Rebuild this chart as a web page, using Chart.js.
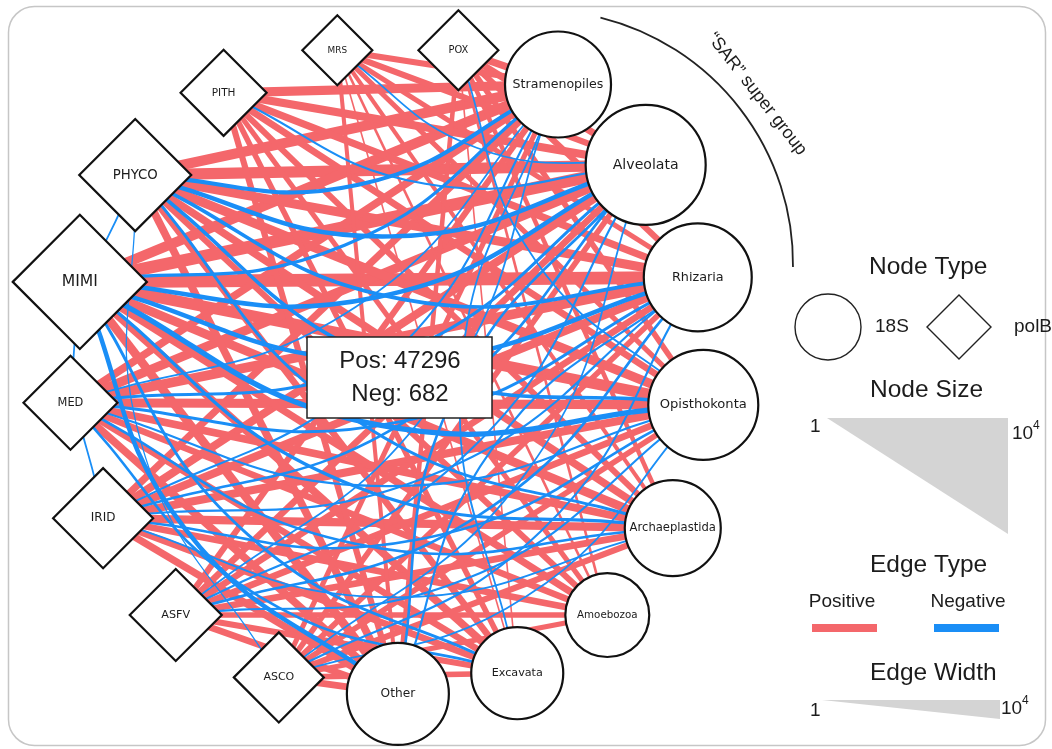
<!DOCTYPE html>
<html>
<head>
<meta charset="utf-8">
<title>polB / 18S co-occurrence network</title>
<script src="https://cdn.jsdelivr.net/npm/chart.js@4.4.1/dist/chart.umd.min.js"></script>
<style>
  html, body { margin: 0; padding: 0; background: #ffffff; }
  #wrap { width: 1052px; height: 749px; position: relative; }
  canvas { display: block; }
</style>
</head>
<body>
<div id="wrap"><canvas id="net" width="1052" height="749"></canvas></div>
<script>
// ---------------- data ----------------
// viral polB groups and their abundance (node size)
const polBNodes     = ['MRS', 'POX', 'PITH', 'PHYCO', 'MIMI', 'MED', 'IRID', 'ASFV', 'ASCO'];
const polBAbundance = [36, 84, 141, 1290, 8500, 278, 465, 235, 198];

// eukaryotic 18S groups and their abundance (node size)
const eukNodes     = ['Stramenopiles', 'Alveolata', 'Rhizaria', 'Opisthokonta', 'Archaeplastida', 'Amoebozoa', 'Excavata', 'Other'];
const eukAbundance = [775, 2560, 915, 1090, 330, 118, 235, 550];

// positive correlations, polB rows x 18S columns (edge counts)
const posVirusEuk = [
  [  20,   20,   10,   10,    5,   2,   1,   5],  // MRS
  [  39,   39,   20,   14,    7,   2,   1,   7],  // POX
  [ 150,   76,   39,   28,   20,  10,  14,  20],  // PITH
  [ 295,  580,  150,  150,   54,  20,  28,  54],  // PHYCO
  [ 295, 1150, 1620,  580,  107,  39,  54, 107],  // MIMI
  [  54,  150,  210,  150,   54,  28,  28,  54],  // MED
  [  39,   76,   76,   76,   76,  28,  28,  39],  // IRID
  [  20,   28,   28,   28,   28,  14,  20,  28],  // ASFV
  [  10,   14,   14,   14,   20,  10,  14,  28]   // ASCO
];

// negative correlations (edge counts)
const negEdges = [
  ['MIMI','Opisthokonta',28], ['MIMI','Rhizaria',14], ['MIMI','Alveolata',14], ['MIMI','Other',14],
  ['MIMI','Archaeplastida',5], ['MIMI','Excavata',4], ['MIMI','Stramenopiles',5],
  ['PHYCO','Alveolata',14], ['PHYCO','Stramenopiles',10], ['PHYCO','Opisthokonta',7], ['PHYCO','Rhizaria',7],
  ['PHYCO','Archaeplastida',4], ['PHYCO','ASCO',1], ['PHYCO','IRID',1.5],
  ['MED','Alveolata',4], ['MED','Rhizaria',4], ['MED','Archaeplastida',3], ['MED','Excavata',3],
  ['MED','Opisthokonta',2], ['MED','Stramenopiles',1.5],
  ['IRID','Stramenopiles',2], ['IRID','Alveolata',3], ['IRID','Opisthokonta',3], ['IRID','Rhizaria',2],
  ['IRID','Archaeplastida',1.5],
  ['ASFV','Rhizaria',3], ['ASFV','Alveolata',2], ['ASFV','Opisthokonta',2], ['ASFV','Stramenopiles',1.5],
  ['ASCO','Rhizaria',2], ['ASCO','Opisthokonta',1.5], ['ASCO','Alveolata',1.5],
  ['PITH','Alveolata',2], ['MRS','Alveolata',1.5], ['POX','Opisthokonta',1.5],
  ['Alveolata','Other',3], ['Stramenopiles','Excavata',1.5], ['Rhizaria','Other',2]
];

const totalPositive = 47296;
const totalNegative = 682;
const nodeTypeNames = ['18S', 'polB'];
const edgeTypeNames = ['Positive', 'Negative'];
const scaleEnds = ['1', '10', '4'];   // 1 … 10^4

// ---------------- layout ----------------
// circular layout: angle in degrees (counter-clockwise from east) and distance from the ring centre
const ring = { cx: 390, cy: 372 };
const nodeAngle = {
  MRS: 99.3, POX: 78, PITH: 120.8, PHYCO: 142.3, MIMI: 163.8, MED: 185.5, IRID: 207, ASFV: 228.6, ASCO: 250,
  Stramenopiles: 59.7, Alveolata: 39, Rhizaria: 17.1, Opisthokonta: 354, Archaeplastida: 331.1,
  Amoebozoa: 311.8, Excavata: 292.9, Other: 271.4
};
const nodeDist = {
  MRS: 326, POX: 329, PITH: 325, PHYCO: 322, MIMI: 323, MED: 321, IRID: 322, ASFV: 324, ASCO: 325,
  Stramenopiles: 333, Alveolata: 329, Rhizaria: 322, Opisthokonta: 315, Archaeplastida: 323,
  Amoebozoa: 326, Excavata: 327, Other: 322
};

const POS_COLOR = '#F4676B';
const NEG_COLOR = '#1A8EF6';
const INK = '#1c1c1c';
const NODE_FONT = '"DejaVu Sans", "Open Sans", sans-serif';
const TEXT_FONT = '"Liberation Sans", Arial, Helvetica, sans-serif';

function nodePos(name) {
  const a = nodeAngle[name] * Math.PI / 180;
  const r = nodeDist[name];
  return { x: ring.cx + r * Math.cos(a), y: ring.cy - r * Math.sin(a) };
}
// node size (half width) from abundance, log scale 1 .. 10^4
const nodeHalf = v => 14 + 13.5 * Math.log10(v);
// edge width from count, log scale 1 .. 10^4
const edgeWidth = w => 1.6 + 3.5 * Math.log10(w);
const BEND = 0.13;

function straightEdge(s, t, w) {
  return {
    data: [nodePos(s), nodePos(t)],
    showLine: true, borderColor: POS_COLOR, borderWidth: edgeWidth(w),
    pointRadius: 0, pointHoverRadius: 0, pointHitRadius: 0, tension: 0, order: 3, clip: false
  };
}
// negative edges are drawn as arcs bowing to the right of source -> target
function curvedEdge(s, t, w) {
  const p = nodePos(s), q = nodePos(t);
  const dx = q.x - p.x, dy = q.y - p.y;
  const mid = { x: (p.x + q.x) / 2 - dy * BEND, y: (p.y + q.y) / 2 + dx * BEND };
  return {
    data: [p, mid, q],
    showLine: true, borderColor: NEG_COLOR, borderWidth: edgeWidth(w) * 0.8,
    pointRadius: 0, pointHoverRadius: 0, pointHitRadius: 0, tension: 0.45, order: 2, clip: false
  };
}

const positiveList = [];
polBNodes.forEach((v, i) => eukNodes.forEach((e, j) => positiveList.push([v, e, posVirusEuk[i][j]])));
positiveList.sort((a, b) => a[2] - b[2]);

const datasets = [];
positiveList.forEach(([s, t, w]) => datasets.push(straightEdge(s, t, w)));
negEdges.forEach(([s, t, w]) => datasets.push(curvedEdge(s, t, w)));

datasets.push({
  label: 'polB',
  data: polBNodes.map(nodePos),
  pointStyle: 'rectRot',
  pointRadius: polBAbundance.map(nodeHalf),
  pointHoverRadius: polBAbundance.map(nodeHalf),
  pointBackgroundColor: '#ffffff', pointBorderColor: '#111111', pointBorderWidth: 2.2,
  showLine: false, order: 0, clip: false
});
datasets.push({
  label: '18S',
  data: eukNodes.map(nodePos),
  pointStyle: 'circle',
  pointRadius: eukAbundance.map(nodeHalf),
  pointHoverRadius: eukAbundance.map(nodeHalf),
  pointBackgroundColor: '#ffffff', pointBorderColor: '#111111', pointBorderWidth: 2.2,
  showLine: false, order: 0, clip: false
});

// ---------------- plugins ----------------
const framePlugin = {
  id: 'frame',
  beforeDraw(chart) {
    const ctx = chart.ctx;
    ctx.save();
    ctx.fillStyle = '#ffffff';
    ctx.fillRect(0, 0, chart.width, chart.height);
    ctx.strokeStyle = '#c6c6c6';
    ctx.lineWidth = 1.5;
    ctx.beginPath();
    ctx.roundRect(8.5, 6.5, 1037, 739, 26);
    ctx.stroke();
    ctx.restore();
  }
};

const nodeLabelPlugin = {
  id: 'nodeLabels',
  afterDatasetsDraw(chart) {
    const ctx = chart.ctx, xs = chart.scales.x, ys = chart.scales.y;
    ctx.save();
    ctx.fillStyle = INK;
    ctx.textAlign = 'center';
    ctx.textBaseline = 'middle';
    const put = (names, sizes) => names.forEach((n, i) => {
      const p = nodePos(n);
      const fs = 1.5 + 0.21 * nodeHalf(sizes[i]);
      ctx.font = fs.toFixed(1) + 'px ' + NODE_FONT;
      ctx.fillText(n, xs.getPixelForValue(p.x), ys.getPixelForValue(p.y));
    });
    put(polBNodes, polBAbundance);
    put(eukNodes, eukAbundance);

    // totals box
    ctx.fillStyle = '#ffffff';
    ctx.fillRect(307, 337, 185, 81);
    ctx.strokeStyle = '#222222';
    ctx.lineWidth = 1.5;
    ctx.strokeRect(307, 337, 185, 81);
    ctx.fillStyle = INK;
    ctx.font = '24px ' + TEXT_FONT;
    ctx.fillText('Pos: ' + totalPositive, 400, 361);
    ctx.fillText('Neg: ' + totalNegative, 400, 394);
    ctx.restore();
  }
};

const legendPlugin = {
  id: 'netLegend',
  afterDraw(chart) {
    const ctx = chart.ctx;
    ctx.save();
    ctx.fillStyle = INK;
    ctx.strokeStyle = '#222222';
    ctx.textBaseline = 'middle';

    // "SAR" super group bracket
    ctx.lineWidth = 1.8;
    ctx.beginPath();
    ctx.arc(539, 264, 254, -76 * Math.PI / 180, 0.7 * Math.PI / 180);
    ctx.stroke();
    ctx.save();
    ctx.translate(757, 94);
    ctx.rotate(52 * Math.PI / 180);
    ctx.textAlign = 'center';
    ctx.font = '18px ' + TEXT_FONT;
    ctx.fillText('\u201CSAR\u201D super group', 0, 0);
    ctx.restore();

    // titles
    ctx.textAlign = 'left';
    ctx.font = '24.5px ' + TEXT_FONT;
    ctx.fillText('Node Type', 869, 267);
    ctx.fillText('Node Size', 870, 390);
    ctx.fillText('Edge Type', 870, 565);
    ctx.fillText('Edge Width', 870, 673);

    // node types
    ctx.lineWidth = 1.4;
    ctx.beginPath();
    ctx.arc(828, 327, 33, 0, Math.PI * 2);
    ctx.stroke();
    ctx.beginPath();
    ctx.moveTo(927, 327); ctx.lineTo(959, 295); ctx.lineTo(991, 327); ctx.lineTo(959, 359);
    ctx.closePath();
    ctx.stroke();
    ctx.textAlign = 'left';
    ctx.font = '19px ' + TEXT_FONT;
    ctx.fillText(nodeTypeNames[0], 875, 327);
    ctx.fillText(nodeTypeNames[1], 1014, 327);

    // node size wedge
    ctx.fillStyle = '#d4d4d4';
    ctx.beginPath();
    ctx.moveTo(827, 418); ctx.lineTo(1008, 418); ctx.lineTo(1008, 534);
    ctx.closePath();
    ctx.fill();
    // edge width wedge
    ctx.beginPath();
    ctx.moveTo(822, 700); ctx.lineTo(1000, 700); ctx.lineTo(1000, 719);
    ctx.closePath();
    ctx.fill();

    ctx.fillStyle = INK;
    ctx.font = '19px ' + TEXT_FONT;
    ctx.textAlign = 'left';
    ctx.fillText(scaleEnds[0], 810, 427);
    ctx.fillText(scaleEnds[1], 1012, 434);
    ctx.font = '12px ' + TEXT_FONT;
    ctx.fillText(scaleEnds[2], 1033, 426);
    ctx.font = '19px ' + TEXT_FONT;
    ctx.fillText(scaleEnds[0], 810, 711);
    ctx.fillText(scaleEnds[1], 1001, 709);
    ctx.font = '12px ' + TEXT_FONT;
    ctx.fillText(scaleEnds[2], 1022, 701);

    // edge types
    ctx.font = '19px ' + TEXT_FONT;
    ctx.textAlign = 'center';
    ctx.fillText(edgeTypeNames[0], 842, 602);
    ctx.fillText(edgeTypeNames[1], 968, 602);
    ctx.fillStyle = POS_COLOR;
    ctx.fillRect(812, 624, 65, 8);
    ctx.fillStyle = NEG_COLOR;
    ctx.fillRect(934, 624, 65, 8);
    ctx.restore();
  }
};

new Chart(document.getElementById('net'), {
  type: 'scatter',
  data: { datasets },
  options: {
    responsive: false,
    animation: false,
    events: [],
    layout: { autoPadding: false, padding: 0 },
    scales: {
      x: { type: 'linear', min: 0, max: 1052, display: false },
      y: { type: 'linear', min: 0, max: 749, reverse: true, display: false }
    },
    plugins: { legend: { display: false }, tooltip: { enabled: false } }
  },
  plugins: [framePlugin, nodeLabelPlugin, legendPlugin]
});
</script>
</body>
</html>
